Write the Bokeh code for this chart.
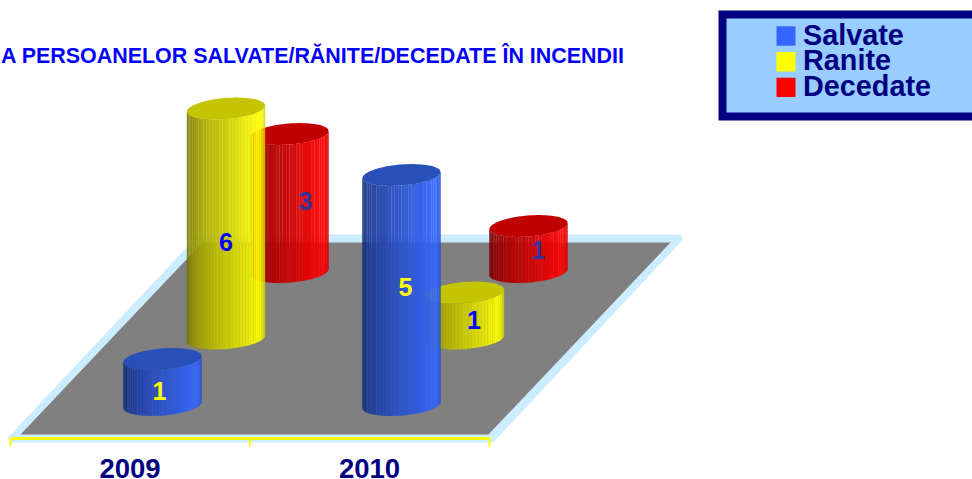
import numpy as np
from bokeh.plotting import figure
from bokeh.models import Range1d
from bokeh.core.properties import value
from bokeh.embed import file_html
from bokeh.resources import INLINE

# ---- data ----
years = ["2009", "2010"]
series = ["Salvate", "Ranite", "Decedate"]
salvate = [1, 5]
ranite = [6, 1]
decedate = [3, 1]
title_text = "A PERSOANELOR SALVATE/RĂNITE/DECEDATE ÎN INCENDII"

# ---- style ----
base_rgb = {"Salvate": (51, 102, 255), "Ranite": (255, 255, 0), "Decedate": (255, 0, 0)}
top_color = {"Salvate": "#2850B8", "Ranite": "#C4C400", "Decedate": "#C00000"}
label_color = {"Salvate": "#FFFF00", "Ranite": "#0000FF", "Decedate": "#333399"}
label_dx = {"Salvate": [-3, 4], "Ranite": [0, 9], "Decedate": [16, 10]}
label_dy = {"Salvate": [9, -3], "Ranite": [18, 4], "Decedate": [-2, 1]}
NAVY = "#000080"
FONT = value("Liberation Sans")

# ---- pseudo-3D projection (screen pixels) ----
AXIS_MAX = 5          # the value axis stops at 5, taller cylinders are cut
PX_PER_UNIT = 46
X0, Y0 = 162, 404.5
DX_YEAR, DX_SERIES, DY_SERIES = 239, 63.5, 66.5
A, B, TILT = 39, 10.5, 3

p = figure(width=972, height=479, x_range=Range1d(0, 972), y_range=Range1d(479, 0),
           output_backend="svg", toolbar_location=None, min_border=0,
           outline_line_color=None, background_fill_color="white",
           border_fill_color="white")
p.axis.visible = False
p.grid.visible = False
p.styles = {"position": "absolute", "left": "0px", "top": "0px"}

# floor
p.patch([12, 491, 678, 200], [438, 438, 238, 238], fill_color="#CCECFF",
        line_color="#CCECFF", line_width=8, line_join="round")
p.patch([20, 488, 670, 202], [434, 434, 242, 242], fill_color="#808080", line_color=None)

# category axis with yellow bracket
edges = [10 + 239.5 * i for i in range(len(years) + 1)]
p.line(edges, [438] * len(edges), line_color="#FFFF00", line_width=3)
p.multi_line([[e, e] for e in edges], [[438, 446] for e in edges],
             line_color="#FFFF00", line_width=2)
p.text([e + 119.5 for e in edges[:-1]], [468] * len(years), text=years, text_font=FONT,
       text_font_style="bold", text_font_size="27.5px", text_color=NAVY,
       text_align="center", text_baseline="middle")


def shade(s):
    """brightness across the cylinder front, s=0 left edge, s=1 right edge"""
    if s < 0.8:
        return 0.42 + 0.58 * (s / 0.8) ** 0.9
    return 1 - 0.25 * ((s - 0.8) / 0.2) ** 2


def cylinder(cx, cy, h, name):
    n = 36
    ts = np.linspace(np.pi, 0, n + 1)
    ex = cx + A * np.cos(ts)
    ey = B * np.sin(ts) - TILT * np.cos(ts)
    xs, ys, cols = [], [], []
    r, g, b = base_rgb[name]
    for i in range(n):
        xs.append([ex[i], ex[i + 1], ex[i + 1], ex[i]])
        ys.append([cy + ey[i], cy + ey[i + 1], cy - h + ey[i + 1], cy - h + ey[i]])
        k = shade((i + 0.5) / n)
        cols.append("#%02x%02x%02x" % (int(r * k), int(g * k), int(b * k)))
    p.patches(xs, ys, fill_color=cols, fill_alpha=0.95, line_color=cols,
              line_alpha=0.5, line_width=0.3)
    tt = np.linspace(0, 2 * np.pi, 80)
    p.patch(cx + A * np.cos(tt), cy - h + B * np.sin(tt) - TILT * np.cos(tt),
            fill_color=top_color[name], line_color=None)


values = {"Salvate": salvate, "Ranite": ranite, "Decedate": decedate}
# back row first
for si in reversed(range(len(series))):
    name = series[si]
    for yi in range(len(years)):
        h = min(values[name][yi], AXIS_MAX) * PX_PER_UNIT
        cylinder(X0 + DX_YEAR * yi + DX_SERIES * si, Y0 - DY_SERIES * si, h, name)

for si, name in enumerate(series):
    for yi in range(len(years)):
        v = values[name][yi]
        h = min(v, AXIS_MAX) * PX_PER_UNIT
        cx = X0 + DX_YEAR * yi + DX_SERIES * si + label_dx[name][yi]
        cy = Y0 - DY_SERIES * si - h / 2 + label_dy[name][yi]
        p.text([cx], [cy], text=[str(v)], text_font=FONT, text_font_style="bold",
               text_font_size="25px", text_color=label_color[name],
               text_align="center", text_baseline="middle")

# title
p.text([0.5], [55], text=[title_text], text_font=FONT, text_font_style="bold",
       text_font_size="21.45px", text_color="#0000FF", text_align="left", text_baseline="middle")

# legend
p.quad(left=[722], right=[990], top=[14], bottom=[116], fill_color="#99CCFF",
       line_color=NAVY, line_width=8, line_join="miter")
for i, name in enumerate(series):
    ly = 35.5 + 25.7 * i
    p.quad(left=[776], right=[795], top=[ly - 9.7], bottom=[ly + 9.7],
           fill_color="#%02x%02x%02x" % base_rgb[name], line_color=None)
    p.text([802.5], [ly - 1.5], text=[name], text_font=FONT, text_font_style="bold",
           text_font_size="28.8px", text_color=NAVY, text_align="left",
           text_baseline="middle")

open("out.html", "w").write(file_html(p, INLINE))
